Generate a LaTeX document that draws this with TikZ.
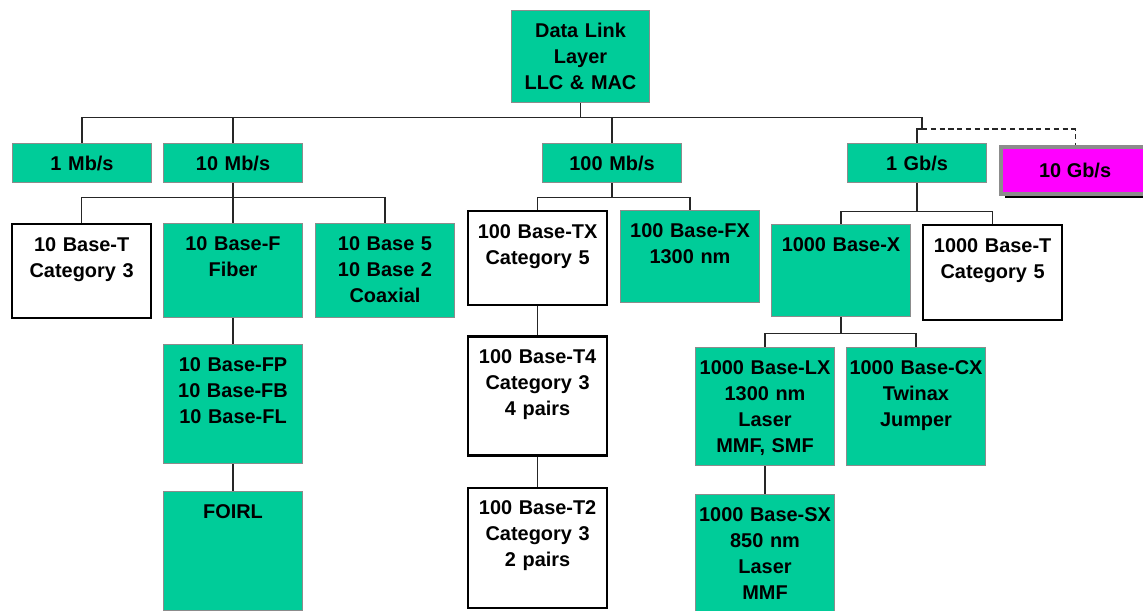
\documentclass[tikz,border=0pt]{standalone}
\usepackage{fontspec}
\setmainfont{Liberation Sans}
\usetikzlibrary{shapes,positioning,shadows}
\definecolor{sea}{HTML}{00CC99}
\definecolor{edge}{HTML}{8C8C8C}
\definecolor{pink}{HTML}{FF00FF}
\tikzstyle{line} = [draw, black!85, line width=0.6pt]
\tikzstyle{rate} = [rectangle, draw=edge, fill=sea, line width=0.6pt,
    text width=2.78cm, align=center, inner sep=0pt, minimum height=0.78cm, anchor=north west]
\tikzstyle{block} = [rectangle, draw=edge, fill=sea, line width=0.6pt,
    text width=2.78cm, align=center, inner sep=0pt, text height=0.54cm, anchor=north west]
\tikzstyle{cable} = [block, draw=black, fill=white, line width=1.3pt]
\tikzstyle{future} = [rectangle, draw=edge, fill=pink, line width=2.4pt,
    minimum width=2.96cm, minimum height=0.94cm, anchor=north west,
    drop shadow={shadow xshift=0.08cm, shadow yshift=-0.08cm, fill=black, opacity=1}]

\begin{document}
\begin{tikzpicture}[x=0.02cm, y=0.02cm, font=\fontsize{11.34pt}{14.74pt}\selectfont\bfseries]
    \useasboundingbox[fill=white] (0,0) rectangle (1143,-610);
    \node[rate, text width=2.76cm, minimum height=1.84cm] (top) at (511,-10) {Data Link\\Layer\\LLC \& MAC};
    % speeds
    \node[rate] (1) at (12,-143) {1 Mb/s};
    \node[rate] (2) at (163,-143) {10 Mb/s};
    \node[rate] (3) at (542,-143) {100 Mb/s};
    \node[rate] (4) at (847,-143) {1 Gb/s};
    \node[future] (5) at (999,-145) {10 Gb/s};
    % 10 Mb/s
    \node[cable, text depth=1.34cm] (6) at (11,-223) {10 Base-T\\Category 3};
    \node[block, text depth=1.34cm] (7) at (163,-223) {10 Base-F\\Fiber};
    \node[block, text depth=1.34cm] (8) at (315,-223) {10 Base 5\\10 Base 2\\Coaxial};
    \node[block, text depth=1.84cm, below=0.52cm of 7] (9) {10 Base-FP\\10 Base-FB\\10 Base-FL};
    \node[block, text depth=1.84cm, below=0.54cm of 9] (10) {FOIRL};
    % 100 Mb/s
    \node[cable, text depth=1.34cm] (11) at (467,-210) {100 Base-TX\\Category 5};
    \node[block, text depth=1.30cm] (12) at (620,-210) {100 Base-FX\\1300 nm};
    \node[cable, text depth=1.84cm, below=0.58cm of 11] (13) {100 Base-T4\\Category 3\\4 pairs};
    \node[cable, text depth=1.86cm, below=0.60cm of 13] (14) {100 Base-T2\\Category 3\\2 pairs};
    % 1 Gb/s
    \node[block, text depth=1.30cm] (15) at (771,-224) {1000 Base-X};
    \node[cable, text depth=1.36cm] (16) at (922,-224) {1000 Base-T\\Category 5};
    \node[block, text depth=1.82cm] (17) at (695,-347) {1000 Base-LX\\1300 nm\\Laser\\MMF, SMF};
    \node[block, text depth=1.82cm] (18) at (846,-347) {1000 Base-CX\\Twinax\\Jumper};
    \node[block, text depth=1.86cm, below=0.56cm of 17] (19) {1000 Base-SX\\850 nm\\Laser\\MMF};

    \coordinate (gj) at (922,-129);
    \path[line] (top.south) -- ++(0,-14) -| (1.north);
    \path[line] (top.south) -- ++(0,-14) -| (2.north);
    \path[line] (top.south) -- ++(0,-14) -| (3.north);
    \path[line] (top.south) -- ++(0,-14) -| (gj) -| (4.north);
    \path[line, densely dashed] (gj) -| (5.north);
    \path[line] (2.south) -- ++(0,-14) -| (6.north);
    \path[line] (2.south) -- ++(0,-14) -| (7.north);
    \path[line] (2.south) -- ++(0,-14) -| (8.north);
    \path[line] (7) -- (9);
    \path[line] (9) -- (10);
    \path[line] (3.south) -- ++(0,-14) -| (11.north);
    \path[line] (3.south) -- ++(0,-14) -| (12.north);
    \path[line] (11) -- (13);
    \path[line] (13) -- (14);
    \path[line] (4.south) -- ++(0,-28) -| (15.north);
    \path[line] (4.south) -- ++(0,-28) -| (16.north);
    \path[line] (15.south) -- ++(0,-16) -| (17.north);
    \path[line] (15.south) -- ++(0,-16) -| (18.north);
    \path[line] (17) -- (19);
\end{tikzpicture}
\end{document}
